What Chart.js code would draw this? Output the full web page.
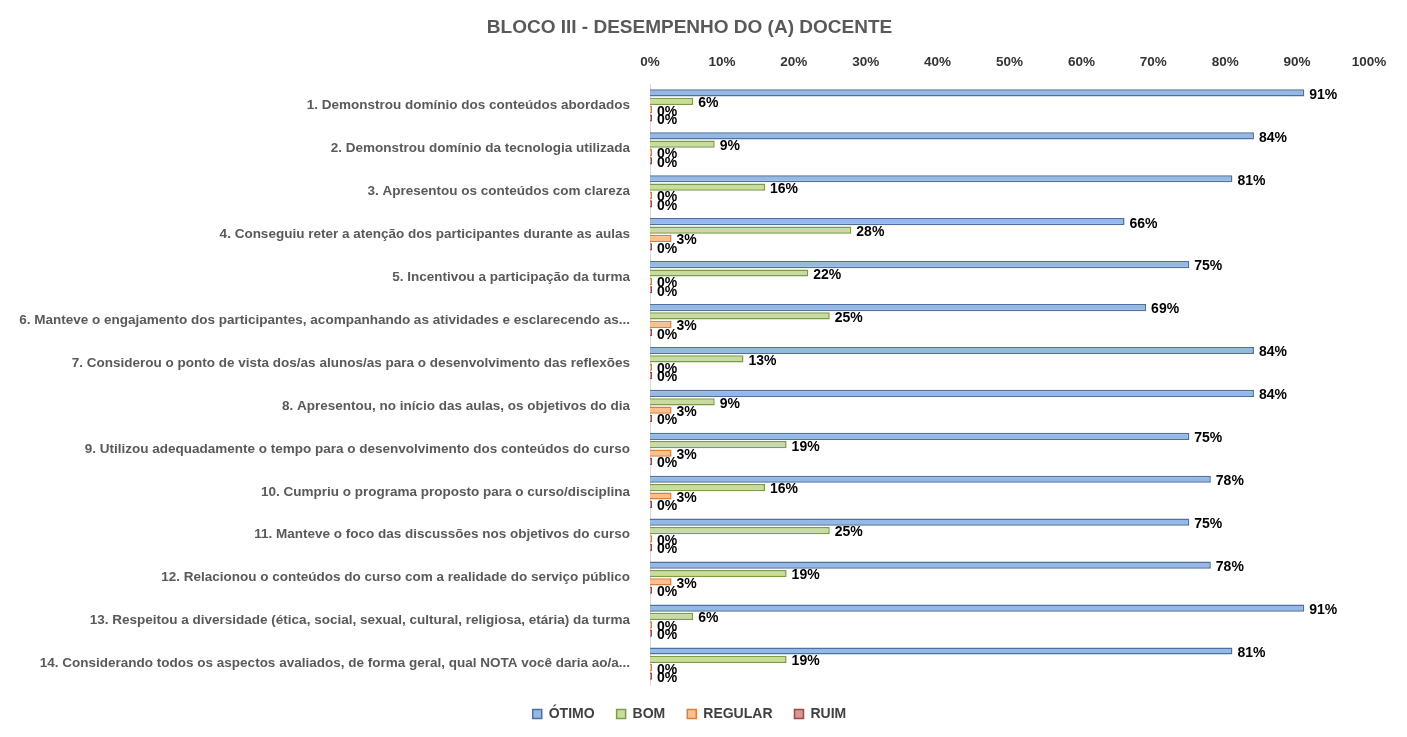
<!DOCTYPE html>
<html>
<head>
<meta charset="utf-8">
<script src="https://cdn.jsdelivr.net/npm/chart.js@4.4.1/dist/chart.umd.min.js"></script>
<style>
  html, body { margin: 0; padding: 0; background: #fff; }
  #wrap { width: 1407px; height: 737px; }
</style>
</head>
<body>
<div id="wrap"><canvas id="chartBloco"></canvas></div>
<script>
// perguntas do bloco III
const perguntas = [
  '1. Demonstrou domínio dos conteúdos abordados',
  '2. Demonstrou domínio da tecnologia utilizada',
  '3. Apresentou os conteúdos com clareza',
  '4. Conseguiu reter a atenção dos participantes durante as aulas',
  '5. Incentivou a participação da turma',
  '6. Manteve o engajamento dos participantes, acompanhando as atividades e esclarecendo as...',
  '7. Considerou o ponto de vista dos/as alunos/as para o desenvolvimento das reflexões',
  '8. Apresentou, no início das aulas, os objetivos do dia',
  '9. Utilizou adequadamente o tempo para o desenvolvimento dos conteúdos do curso',
  '10. Cumpriu o programa proposto para o curso/disciplina',
  '11. Manteve o foco das discussões nos objetivos do curso',
  '12. Relacionou o conteúdos do curso com a realidade do serviço público',
  '13. Respeitou a diversidade (ética, social, sexual, cultural, religiosa, etária) da turma',
  '14. Considerando todos os aspectos avaliados, de forma geral, qual NOTA você daria ao/a...'
];
const otimo   = [91, 84, 81, 66, 75, 69, 84, 84, 75, 78, 75, 78, 91, 81];
const bom     = [6, 9, 16, 28, 22, 25, 13, 9, 19, 16, 25, 19, 6, 19];
const regular = [0, 0, 0, 3, 0, 3, 0, 3, 3, 3, 0, 3, 0, 0];
const ruim    = [0, 0, 0, 0, 0, 0, 0, 0, 0, 0, 0, 0, 0, 0];

const fonte = "'Liberation Sans', 'Noto Sans', sans-serif";

// rotulos de valor no fim de cada barra
const rotulos = {
  id: 'rotulos',
  afterDatasetsDraw(chart) {
    const ctx = chart.ctx;
    ctx.save();
    ctx.font = 'bold 14px ' + fonte;
    ctx.fillStyle = '#000';
    ctx.textBaseline = 'middle';
    ctx.textAlign = 'left';
    chart.data.datasets.forEach((ds, i) => {
      chart.getDatasetMeta(i).data.forEach((bar, j) => {
        ctx.fillText(ds.data[j] + '%', bar.x + 5, bar.y + 2);
      });
    });
    ctx.restore();
  }
};

const ctx = document.getElementById('chartBloco').getContext('2d');
const chartBloco = new Chart(ctx, {
  type: 'bar',
  data: {
    labels: perguntas,
    datasets: [
      { label: 'ÓTIMO', data: otimo, backgroundColor: '#95b9e6', borderColor: '#4f6f9c', borderWidth: 1.5 },
      { label: 'BOM', data: bom, backgroundColor: '#c8dca0', borderColor: '#7d9a4a', borderWidth: 1.5 },
      { label: 'REGULAR', data: regular, backgroundColor: '#fbc08e', borderColor: '#d9803c', borderWidth: 1.5 },
      { label: 'RUIM', data: ruim, backgroundColor: '#d99694', borderColor: '#9c4a48', borderWidth: 1.5 }
    ]
  },
  options: {
    indexAxis: 'y',
    responsive: true,
    maintainAspectRatio: false,
    animation: false,
    categoryPercentage: 0.78,
    barPercentage: 0.86,
    minBarLength: 2,
    layout: { padding: { left: 10, right: 38, top: 0, bottom: 6 } },
    plugins: {
      title: {
        display: true,
        text: 'BLOCO III - DESEMPENHO DO (A) DOCENTE',
        color: '#595959',
        font: { family: fonte, size: 19, weight: 'bold' },
        padding: { top: 16, bottom: 1 }
      },
      legend: {
        position: 'bottom',
        labels: {
          color: '#404040',
          font: { family: fonte, size: 14, weight: 'bold' },
          boxWidth: 9,
          boxHeight: 9,
          padding: 22
        }
      },
      tooltip: { enabled: false }
    },
    scales: {
      x: {
        position: 'top',
        min: 0,
        max: 100,
        ticks: {
          stepSize: 10,
          color: '#333',
          font: { family: fonte, size: 13.5, weight: 'bold' },
          callback: v => v + '%',
          padding: 14
        },
        grid: { display: false, drawTicks: false },
        border: { display: false }
      },
      y: {
        ticks: {
          color: '#595959',
          font: { family: fonte, size: 13.5, weight: 'bold' },
          padding: 12
        },
        grid: { display: false },
        border: { display: true, color: '#d9d9d9', width: 1 },
        afterFit(scale) { scale.width = 640; }
      }
    }
  },
  plugins: [rotulos]
});
</script>
</body>
</html>
